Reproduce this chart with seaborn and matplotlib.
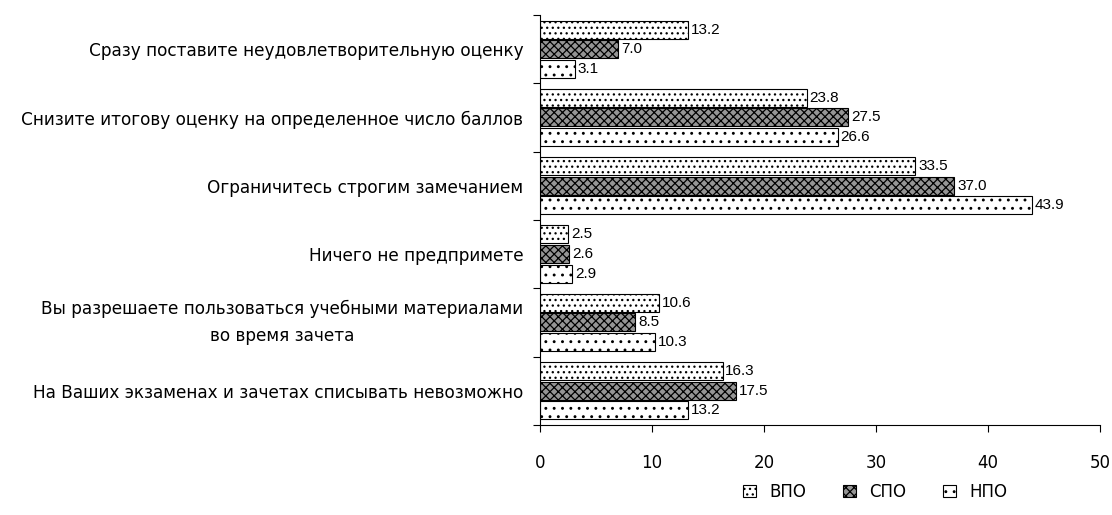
import numpy as np
import pandas as pd
import matplotlib
matplotlib.use('Agg')
import matplotlib.pyplot as plt
import seaborn as sns

# Ответы (сверху вниз), проценты
answers = [
    'Сразу поставите неудовлетворительную оценку',
    'Снизите итогову оценку на определенное число баллов',
    'Ограничитесь строгим замечанием',
    'Ничего не предпримете',
    'Вы разрешаете пользоваться учебными материалами\nво время зачета',
    'На Ваших экзаменах и зачетах списывать невозможно',
]
levels = ['ВПО', 'СПО', 'НПО']
vpo = [13.2, 23.8, 33.5, 2.5, 10.6, 16.3]
spo = [7.0, 27.5, 37.0, 2.6, 8.5, 17.5]
npo = [3.1, 26.6, 43.9, 2.9, 10.3, 13.2]

df = pd.DataFrame({
    'answer': answers * 3,
    'level': [l for l in levels for _ in answers],
    'value': vpo + spo + npo,
})

sns.set_style('white')
plt.rcParams['font.family'] = ['DejaVu Sans']
plt.rcParams['text.color'] = 'black'
plt.rcParams['xtick.color'] = 'black'
plt.rcParams['ytick.color'] = 'black'
plt.rcParams['hatch.linewidth'] = 0.9

fig = plt.figure(figsize=(11.12, 5.15), dpi=100)
ax = fig.add_axes([0.4856, 0.175, 0.5036, 0.796])

sns.barplot(data=df, y='answer', x='value', hue='level', order=answers,
            hue_order=levels, orient='h', width=0.86, gap=0.08,
            edgecolor='black', linewidth=0.8, legend=False, ax=ax)

faces = ['white', '#959595', 'white']
hatches = ['...', 'xxxx', '..']
for cont, fc, h in zip(ax.containers, faces, hatches):
    for p in cont:
        p.set_facecolor(fc)
        p.set_hatch(h)
        p.set_edgecolor('black')
    ax.bar_label(cont, fmt='%.1f', padding=2, fontsize=11, color='black',
                 family=['Liberation Sans', 'DejaVu Sans'])

ax.set_xlim(0, 50)
ax.set_xticks(np.arange(0, 51, 10))
ax.set_xlabel('')
ax.set_ylabel('')
ax.set_yticks(np.arange(-0.5, len(answers)), minor=True)
ax.tick_params(axis='y', which='major', length=0, pad=12, labelsize=12.2)
ax.tick_params(axis='y', which='minor', length=5, width=0.8, direction='out', left=True)
ax.tick_params(axis='x', length=5, width=0.8, direction='out', bottom=True, pad=16, labelsize=12)
for lab in ax.get_yticklabels():
    lab.set_horizontalalignment('right')
    lab.set_multialignment('center')
    lab.set_linespacing(1.7)
    if '\n' in lab.get_text():
        lab.set_verticalalignment('center')

sns.despine(ax=ax, top=True, right=True)
for s in ('left', 'bottom'):
    ax.spines[s].set_color('black')
    ax.spines[s].set_linewidth(0.8)

handles = [cont.patches[0] for cont in ax.containers]
fig.legend(handles, levels, loc='center', bbox_to_anchor=(0.787, 0.045), ncol=3,
           frameon=False, handlelength=0.8, handleheight=0.8, columnspacing=2.2,
           fontsize=12)

fig.savefig('out.png', dpi=100)
